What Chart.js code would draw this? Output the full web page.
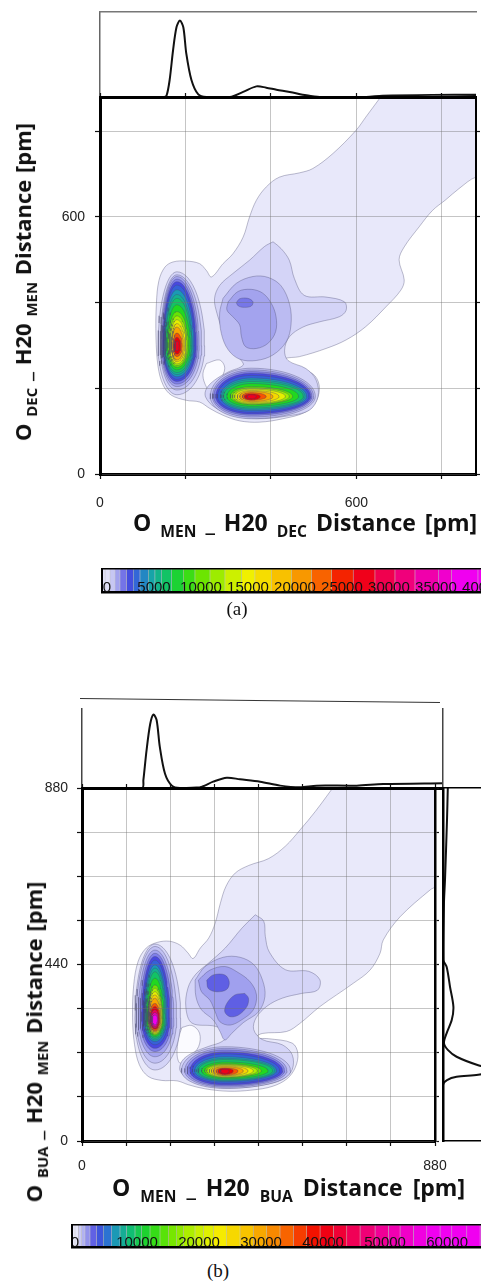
<!DOCTYPE html>
<html>
<head>
<meta charset="utf-8">
<script src="https://cdn.jsdelivr.net/npm/chart.js@4.4.1/dist/chart.umd.min.js"></script>
<style>
  html, body { margin: 0; padding: 0; background: #fff; width: 481px; height: 1284px; overflow: hidden; position: relative; }
  canvas { position: absolute; }
  .ttl { position: absolute; font-family: 'Open Sans', Lato, sans-serif; font-weight: 700; color: #111; white-space: nowrap; line-height: 1; }
  .ttl sub { font-size: 0.68em; vertical-align: -0.4em; }
  .rot { transform: translate(-50%, -50%) rotate(-90deg); }
  .cap { position: absolute; font-family: 'Liberation Serif', 'DejaVu Serif', serif; font-size: 19px; color: #111; transform: translate(-50%, -50%); }
  .slant { position: absolute; left: 80px; top: 698px; width: 360px; border-top: 1px solid #333; transform-origin: 0 0; transform: rotate(0.64deg); }
</style>
</head>
<body>
<canvas id="topA" width="481" height="99" style="left:0;top:0"></canvas>
<canvas id="mainA" width="481" height="430" style="left:0;top:90px"></canvas>
<canvas id="barA" width="560" height="40" style="left:0;top:560px"></canvas>

<div class="slant"></div>
<canvas id="topB" width="481" height="92" style="left:0;top:700px"></canvas>
<canvas id="mainB" width="481" height="410" style="left:0;top:780px"></canvas>
<canvas id="rightB" width="110" height="370" style="left:430px;top:780px"></canvas>
<canvas id="barB" width="560" height="40" style="left:0;top:1216px"></canvas>

<div class="ttl" style="left:133px;top:511px;font-size:23px;word-spacing:3px">O <sub>MEN</sub> _ H20 <sub>DEC</sub> Distance [pm]</div>
<div class="ttl rot" style="left:25px;top:282px;font-size:22px;word-spacing:1px">O <sub>DEC</sub> _ H20 <sub>MEN</sub> Distance [pm]</div>
<div class="cap" style="left:237px;top:609px">(a)</div>

<div class="ttl" style="left:112px;top:1176px;font-size:23px;word-spacing:4px">O <sub>MEN</sub> _ H20 <sub>BUA</sub> Distance [pm]</div>
<div class="ttl rot" style="left:36px;top:1042px;font-size:22px;word-spacing:1px">O <sub>BUA</sub> _ H20 <sub>MEN</sub> Distance [pm]</div>
<div class="cap" style="left:218px;top:1271px">(b)</div>

<script>
// ---- axes (pm) ----
const axisMax = 880;
const gridA = [0, 200, 400, 600, 800];
const labelsA = [0, 600];
const gridB = [0, 110, 220, 330, 440, 550, 660, 770, 880];
const labelsBx = [0, 880];
const labelsBy = [0, 440, 880];

// ---- colour scales (density) ----
const vmaxA = 38000;
const vmaxB = 57000;
const barBoundsA = [-530, -210, 320, 850, 1380, 2090, 2800, 3510, 4400, 5100, 5820, 6880, 8120, 9360, 10960, 12550,
  14330, 15740, 17520, 19650, 21770, 23900, 26200, 28510, 30640, 32770, 35250, 36670, 39470, 42000, 44500, 48200];
const barTicksA = [0, 5000, 10000, 15000, 20000, 25000, 30000, 35000, 40000, 45000];
const barBoundsB = [-480, 0, 540, 1080, 1610, 2420, 3490, 4570, 5910, 7260, 8330, 9680, 10750, 12100, 13710, 15050,
  16400, 17470, 19350, 20700, 22310, 24460, 26610, 28760, 30910, 33060, 35220, 37360, 39520, 41670, 43820, 45970,
  48390, 50540, 52420, 54570, 56720, 58870, 60750, 63170, 65320, 67500, 69700, 72000, 75000, 78200];
const barTicksB = [0, 10000, 20000, 30000, 40000, 50000, 60000, 70000];

// ---- marginal distributions ----
// top: [pm, relative density]
const margTopA = [[0, 0], [150, 0], [156, 0.02], [163, 0.2], [171, 0.55], [179, 0.82], [187, 0.9], [195, 0.82],
  [202, 0.51], [214, 0.2], [230, 0.03], [249, 0], [304, 0], [335, 0.06], [366, 0.125], [389, 0.11], [413, 0.086],
  [444, 0.06], [483, 0.02], [514, 0], [623, 0], [661, 0.015], [778, 0.025], [880, 0.025]];
const margTopB = [[0, 0], [150, 0], [153, 0.1], [161, 0.48], [170, 0.81], [178, 0.93], [186, 0.86], [194, 0.52],
  [207, 0.18], [224, 0.03], [244, 0], [294, 0.01], [327, 0.08], [361, 0.13], [394, 0.11], [444, 0.08], [494, 0.03],
  [543, 0.01], [585, 0.03], [685, 0.03], [751, 0.05], [900, 0.06]];
// right: [relative density, pm]
const margRightB = [[0.06, 880], [0.05, 800], [0.025, 651], [0.012, 593], [0.004, 451], [0.046, 434], [0.088, 384],
  [0.13, 335], [0.11, 302], [0.046, 269], [0.012, 244], [0.06, 227], [0.17, 210], [0.44, 189], [0.7, 177],
  [0.44, 165], [0.17, 160], [0.05, 152], [0, 140], [0, 0]];

// ---- contour regions, panel (a): outlines in pm ----
const envelopeA = [[668, 895], [622, 833], [599, 802], [545, 748], [498, 713], [467, 703], [420, 693], [389, 670],
  [366, 639], [350, 600], [335, 553], [311, 514], [288, 491], [261, 460], [249, 475], [233, 491], [202, 497],
  [171, 495], [152, 483], [138, 452], [132, 398], [131, 320], [136, 250], [148, 207], [167, 184], [202, 172],
  [233, 168], [257, 153], [288, 137], [327, 124], [373, 121], [428, 129], [482, 145], [507, 172], [513, 207],
  [498, 234], [459, 248], [424, 256], [432, 269], [467, 274], [529, 293], [576, 313], [622, 344], [669, 390],
  [704, 429], [712, 453], [700, 500], [712, 530], [747, 577], [778, 615], [809, 640], [840, 666], [880, 693],
  [895, 683], [895, 895]];
const holeA = [[249, 258], [280, 266], [292, 247], [280, 219], [257, 196], [245, 212], [241, 235]];
const plateauA = [[405, 542], [424, 526], [443, 499], [455, 456], [478, 417], [529, 413], [572, 402], [576, 382],
  [560, 367], [513, 355], [475, 343], [443, 320], [432, 289], [440, 265], [482, 246], [506, 219], [510, 180],
  [490, 149], [436, 135], [366, 129], [311, 137], [268, 156], [247, 180], [249, 199], [268, 219], [300, 238],
  [335, 254], [327, 269], [303, 293], [288, 331], [274, 374], [268, 409], [280, 440], [311, 468], [350, 499],
  [385, 531]];
const middleA3 = [[288, 410], [319, 445], [358, 461], [393, 459], [424, 439], [444, 395], [447, 348], [436, 309],
  [405, 278], [366, 265], [327, 268], [300, 290], [284, 328], [280, 375]];
const middleA4 = [[300, 402], [323, 426], [354, 431], [381, 422], [401, 398], [412, 367], [411, 332], [393, 305],
  [366, 293], [341, 297], [331, 321], [327, 348], [311, 367], [297, 383]];
const spotA = [[319, 400], [327, 409], [346, 410], [358, 402], [354, 392], [338, 389], [324, 392]];
const regionShapesA = [envelopeA, holeA, plateauA, middleA3, middleA4, spotA];
const regionLevelsA = [150, 0, 400, 750, 1100, 1700];

// peaks: core [pm x, pm y]; rings [left, right, below, above half-widths (pm), density level]
const leftCoreA = [180, 299];
const leftRingsA = [[44, 65, 114, 173, 400], [39, 58, 103, 166, 700], [37, 52, 95, 162, 1100], [35, 48, 89, 156, 1600],
  [33, 45, 83, 150, 2300], [31, 42, 78, 142, 3000], [30, 39, 72, 131, 4400], [28, 36, 67, 120, 5300],
  [27, 34, 62, 111, 6400], [24, 31, 56, 96, 8000], [21, 27, 50, 80, 10000], [18, 24, 46, 70, 12000],
  [16, 21, 42, 61, 14500], [13, 18, 37, 52, 17000], [12, 15, 33, 44, 20000], [9, 12, 25, 30, 23500],
  [7, 9, 19, 20, 26500], [4, 5, 12, 12, 27500]];
const lowerCoreA = [354, 181];
const lowerRingsA = [[96, 150, 52, 66, 700], [91, 146, 48, 62, 1100], [88, 142, 44, 58, 1600], [83, 139, 41, 54, 2300],
  [79, 135, 37, 49, 3000], [72, 130, 33, 43, 4400], [69, 126, 30, 39, 5300], [65, 122, 27, 35, 6400],
  [57, 111, 23, 30, 8000], [49, 97, 19, 23, 10000], [44, 89, 18, 20, 12000], [39, 80, 16, 17, 14500],
  [33, 65, 14, 14, 17000], [27, 51, 12, 12, 20000], [21, 35, 9, 9, 23500], [16, 21, 8, 6, 26500], [10, 12, 5, 4, 27500]];

// ---- contour regions, panel (b) ----
const envelopeB = [[636, 895], [582, 822], [544, 776], [507, 735], [465, 704], [416, 687], [382, 668], [359, 635],
  [345, 593], [332, 543], [316, 506], [295, 481], [277, 455], [264, 469], [245, 488], [218, 498], [187, 495],
  [160, 481], [140, 448], [129, 390], [126, 307], [131, 240], [143, 190], [165, 161], [199, 151], [237, 150],
  [266, 140], [307, 130], [366, 124], [424, 127], [474, 136], [511, 155], [532, 184], [538, 219], [524, 244],
  [465, 255], [432, 257], [449, 268], [510, 273], [543, 293], [593, 335], [676, 393], [718, 426], [743, 468],
  [751, 501], [793, 559], [868, 626], [895, 645], [895, 895]];
const holeB = [[249, 283], [274, 288], [293, 269], [291, 236], [270, 211], [245, 194], [237, 215], [241, 257]];
const plateauB = [[432, 564], [453, 548], [457, 510], [467, 471], [507, 427], [565, 423], [593, 402], [587, 376],
  [548, 368], [499, 356], [461, 336], [434, 307], [428, 278], [449, 253], [499, 240], [524, 215], [524, 178],
  [499, 153], [449, 139], [382, 132], [324, 135], [274, 149], [245, 174], [249, 199], [274, 219], [316, 236],
  [349, 248], [366, 269], [332, 286], [274, 294], [259, 332], [264, 381], [283, 415], [316, 444], [357, 481],
  [399, 531]];
const middleB3 = [[282, 401], [307, 435], [352, 458], [394, 458], [429, 439], [450, 401], [456, 360], [440, 322],
  [402, 295], [373, 268], [356, 252], [344, 273], [327, 302], [298, 327], [284, 360]];
const middleB4 = [[290, 401], [319, 426], [356, 435], [386, 422], [419, 397], [435, 364], [427, 327], [398, 302],
  [369, 289], [344, 297], [332, 322], [319, 351], [298, 372]];
const spotB1 = [[311, 401], [327, 414], [356, 414], [367, 397], [361, 378], [336, 372], [315, 380]];
const spotB2 = [[406, 368], [415, 356], [411, 335], [390, 314], [369, 310], [356, 322], [361, 343], [381, 364]];
const regionShapesB = [envelopeB, holeB, plateauB, middleB3, middleB4, spotB1, spotB2];
const regionLevelsB = [200, 0, 600, 1100, 1700, 3000, 3000];

const leftCoreB = [182, 306];
const leftRingsB = [[50, 64, 129, 185, 600], [47, 54, 112, 179, 1000], [42, 47, 96, 170, 1600], [37, 42, 83, 162, 2400],
  [33, 37, 75, 154, 3400], [29, 33, 66, 145, 4500], [27, 29, 58, 133, 6500], [25, 27, 54, 125, 8000],
  [23, 25, 50, 116, 9500], [21, 22, 46, 100, 12000], [18, 19, 42, 83, 15500], [17, 18, 40, 75, 18500],
  [17, 17, 37, 66, 22000], [16, 15, 35, 58, 26000], [15, 14, 33, 50, 30000], [14, 12, 31, 37, 35000],
  [12, 11, 27, 29, 39500], [11, 9, 25, 21, 45000], [9, 7, 21, 14, 51000], [7, 6, 17, 8, 57000]];
const lowerCoreB = [356, 175];
const lowerRingsB = [[108, 164, 44, 60, 1000], [100, 155, 41, 56, 1600], [94, 149, 38, 52, 2400], [87, 144, 35, 47, 3400],
  [81, 137, 31, 42, 4500], [75, 129, 27, 35, 6500], [70, 125, 25, 31, 8000], [66, 120, 23, 28, 9500],
  [58, 108, 20, 22, 12000], [50, 91, 17, 18, 15500], [45, 81, 16, 16, 18500], [39, 71, 15, 14, 22000],
  [34, 58, 13, 12, 26000], [29, 46, 12, 10, 30000], [22, 33, 11, 7, 35000], [17, 21, 9, 6, 39500], [11, 11, 7, 4, 41000]];

// ---- styling helpers ----
const cmapStops = [[0, '#fbfbff'], [0.003, '#ebebfa'], [0.012, '#d0d0f6'], [0.025, '#adadf0'], [0.04, '#8686ea'],
  [0.06, '#4848e0'], [0.09, '#2c70d4'], [0.12, '#18a0b0'], [0.16, '#10c070'], [0.21, '#20d820'], [0.27, '#70e600'],
  [0.34, '#c0f000'], [0.4, '#f4f000'], [0.48, '#f8c800'], [0.55, '#f89400'], [0.62, '#f85000'], [0.69, '#f00000'],
  [0.79, '#f00058'], [0.89, '#f000a8'], [1, '#f000f0']];

Chart.defaults.font.family = "'Liberation Sans', Arial, sans-serif";
Chart.defaults.color = '#222';

function hexRgb(h) {
  return [1, 3, 5].map(i => parseInt(h.substr(i, 2), 16));
}

function cmap(t) {
  t = Math.min(Math.max(t, 0), 1);
  for (let i = 1; i < cmapStops.length; i++) {
    if (t <= cmapStops[i][0]) {
      const [t0, c0] = cmapStops[i - 1];
      const [t1, c1] = cmapStops[i];
      const f = (t - t0) / (t1 - t0);
      const a = hexRgb(c0), b = hexRgb(c1);
      return 'rgb(' + a.map((v, k) => Math.round(v + (b[k] - v) * f)).join(',') + ')';
    }
  }
  return cmapStops[cmapStops.length - 1][1];
}

const toPts = arr => arr.map(p => ({x: p[0], y: p[1]}));

function ringPoints(core, r) {
  const pts = [];
  for (let k = 0; k <= 60; k++) {
    const a = k / 60 * 2 * Math.PI;
    const c = Math.cos(a), s = Math.sin(a);
    pts.push({x: core[0] + c * (c >= 0 ? r[1] : r[0]), y: core[1] + s * (s >= 0 ? r[3] : r[2])});
  }
  return pts;
}

function fillSet(pts, level, vmax, tension) {
  return {
    data: pts, fill: 'shape', backgroundColor: cmap(level / vmax),
    borderColor: 'rgba(70,70,110,0.5)', borderWidth: 0.7, tension, pointRadius: 0
  };
}

function contourSets(shapes, levels, peaks, vmax) {
  const sets = [];
  shapes.forEach((shape, i) => {
    const pts = toPts(shape);
    pts.push({x: shape[0][0], y: shape[0][1]});
    sets.push(fillSet(pts, levels[i], vmax, 0.35));
  });
  peaks.forEach(([core, rings]) => {
    rings.forEach(r => sets.push(fillSet(ringPoints(core, r), r[4], vmax, 0)));
  });
  // first layer at the bottom
  sets.forEach((s, i) => { s.order = sets.length - i; });
  return sets;
}

// fixed axis sizes, no automatic label padding
const noPad = s => { s.paddingTop = 0; s.paddingBottom = 0; s.paddingLeft = 0; s.paddingRight = 0; };
const fixW = w => s => { s.width = w; noPad(s); };
const fixH = h => s => { s.height = h; noPad(s); };
const ticksAt = vals => s => { s.ticks = vals.map(v => ({value: v})); };

function mainChart(id, sets, ax) {
  const grid = {color: 'rgba(110,110,110,0.4)', lineWidth: 1, tickLength: 5, tickColor: '#111', tickWidth: 1.2, z: 1};
  const side = {drawOnChartArea: false, tickLength: 4, tickColor: '#111', tickWidth: 1.2, z: 1};
  const lab = list => v => list.includes(v) ? String(v) : '';
  return new Chart(document.getElementById(id), {
    type: 'line',
    data: {datasets: sets},
    options: {
      responsive: false, animation: false, devicePixelRatio: 1,
      layout: {padding: 0, autoPadding: false},
      plugins: {legend: {display: false}, tooltip: {enabled: false}},
      elements: {point: {radius: 0}},
      scales: {
        x: {
          type: 'linear', position: 'bottom', min: 0, max: axisMax,
          afterBuildTicks: ticksAt(ax.grid), afterFit: fixH(ax.bottom),
          grid, border: {color: '#000', width: 3, z: 1},
          ticks: {padding: ax.xPad, font: {size: 14}, color: '#222', maxRotation: 0, autoSkip: false, callback: lab(ax.xLabels)}
        },
        y: {
          type: 'linear', position: 'left', min: 0, max: axisMax,
          afterBuildTicks: ticksAt(ax.grid), afterFit: fixW(ax.left),
          grid, border: {color: '#000', width: 3, z: 1},
          ticks: {padding: ax.yPad, font: {size: 14}, color: '#222', autoSkip: false, callback: lab(ax.yLabels)}
        },
        x2: {
          type: 'linear', position: 'top', min: 0, max: axisMax,
          afterBuildTicks: ticksAt(ax.grid), afterFit: fixH(ax.top),
          grid: side, border: {color: '#000', width: 3, z: 1}, ticks: {display: false}
        },
        y2: {
          type: 'linear', position: 'right', min: 0, max: axisMax,
          afterBuildTicks: ticksAt(ax.grid), afterFit: fixW(ax.right),
          grid: side, border: {color: '#000', width: ax.rightBorder, z: 1}, ticks: {display: false}
        }
      }
    }
  });
}

function marginalChart(id, pts, cfg) {
  const hidden = {display: false};
  const edge = (pos, w, c, show) => ({
    type: 'linear', position: pos, display: show,
    min: cfg[pos === 'left' || pos === 'right' ? 'yMin' : 'xMin'],
    max: cfg[pos === 'left' || pos === 'right' ? 'yMax' : 'xMax'],
    afterFit: pos === 'left' || pos === 'right' ? fixW(0) : fixH(0),
    ticks: hidden, grid: hidden, border: {color: c, width: w, z: 1}
  });
  return new Chart(document.getElementById(id), {
    type: 'line',
    data: {datasets: [{data: toPts(pts), borderColor: '#111', borderWidth: 2, tension: 0.3, pointRadius: 0, fill: false}]},
    options: {
      responsive: false, animation: false, devicePixelRatio: 1,
      layout: {padding: cfg.pad, autoPadding: false},
      plugins: {legend: {display: false}, tooltip: {enabled: false}},
      scales: {
        x: edge('bottom', cfg.bottom[0], cfg.bottom[1], true),
        y: edge('left', cfg.left[0], cfg.left[1], true),
        x2: edge('top', cfg.top[0], cfg.top[1], cfg.top[0] > 0),
        y2: edge('right', cfg.right[0], cfg.right[1], cfg.right[0] > 0)
      }
    }
  });
}

function colorBar(id, bounds, tickVals, vmax, pad) {
  const sets = bounds.slice(1).map((hi, i) => ({
    data: [[bounds[i], hi]],
    backgroundColor: cmap(Math.max((bounds[i] + hi) / 2, 250) / vmax),
    borderColor: 'rgba(0,0,0,0.2)', borderWidth: 0.6, borderSkipped: false,
    barPercentage: 1, categoryPercentage: 1, grouped: false
  }));
  return new Chart(document.getElementById(id), {
    type: 'bar',
    data: {labels: [''], datasets: sets},
    options: {
      indexAxis: 'y', responsive: false, animation: false, devicePixelRatio: 1,
      layout: {padding: pad, autoPadding: false},
      plugins: {legend: {display: false}, tooltip: {enabled: false}},
      scales: {
        x: {
          type: 'linear', min: bounds[0], max: bounds[bounds.length - 1],
          afterBuildTicks: ticksAt(tickVals), afterFit: fixH(pad.axis),
          grid: {display: false}, border: {color: '#000', width: 2.5, z: 1},
          ticks: {mirror: true, padding: -3, autoSkip: false, maxRotation: 0, color: '#111', z: 1,
            font: {size: 15, lineHeight: 1}, callback: v => String(v)}
        },
        y: {afterFit: fixW(0), ticks: {display: false}, grid: {display: false}, border: {color: '#000', width: 2, z: 1}},
        x2: {type: 'linear', position: 'top', afterFit: fixH(0), ticks: {display: false}, grid: {display: false},
          border: {color: '#000', width: 1.5, z: 1}}
      }
    }
  });
}

// ---- panel (a) ----
marginalChart('topA', margTopA, {
  xMin: 0, xMax: axisMax, yMin: 0, yMax: 1,
  pad: {left: 100, right: 5, top: 12, bottom: 2},
  bottom: [3, '#000'], left: [1.5, '#666'], top: [1.5, '#777'], right: [0, '#000']
});
mainChart('mainA', contourSets(regionShapesA, regionLevelsA, [[leftCoreA, leftRingsA], [lowerCoreA, lowerRingsA]], vmaxA), {
  grid: gridA, xLabels: labelsA, yLabels: labelsA,
  left: 100, right: 5, top: 7, bottom: 46, xPad: 16, yPad: 10, rightBorder: 2
});
colorBar('barA', barBoundsA, barTicksA, vmaxA, {left: 102, top: 9, right: 0, bottom: 0, axis: 8});

// ---- panel (b) ----
marginalChart('topB', margTopB, {
  xMin: 0, xMax: 900, yMin: 0, yMax: 1,
  pad: {left: 82, right: 38, top: 9, bottom: 4},
  bottom: [3, '#000'], left: [1.5, '#444'], top: [0, '#000'], right: [1.5, '#444']
});
mainChart('mainB', contourSets(regionShapesB, regionLevelsB, [[leftCoreB, leftRingsB], [lowerCoreB, lowerRingsB]], vmaxB), {
  grid: gridB, xLabels: labelsBx, yLabels: labelsBy,
  left: 82, right: 46, top: 8, bottom: 49, xPad: 12, yPad: 9, rightBorder: 2.5
});
marginalChart('rightB', margRightB, {
  xMin: 0, xMax: 1, yMin: 0, yMax: axisMax,
  pad: {left: 13, right: 17, top: 8, bottom: 9},
  bottom: [1.5, '#000'], left: [2.5, '#000'], top: [1.5, '#000'], right: [0, '#000']
});
colorBar('barB', barBoundsB, barTicksB, vmaxB, {left: 72, top: 9, right: 0, bottom: 0, axis: 9});
</script>
</body>
</html>
